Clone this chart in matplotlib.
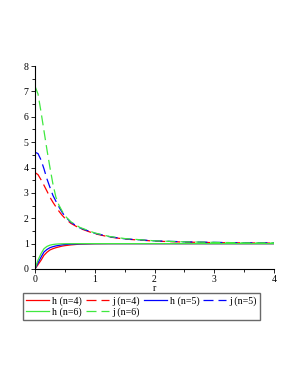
import matplotlib
matplotlib.use('Agg')
import matplotlib.pyplot as plt
from matplotlib.ticker import MultipleLocator

plt.rcParams['font.family'] = ['Liberation Serif', 'DejaVu Serif']

# values
r = [0, 0.05, 0.1, 0.15, 0.2, 0.25, 0.3, 0.35, 0.4, 0.45, 0.5, 0.6, 0.75,
     1.0, 1.25, 1.5, 2.0, 2.5, 3.0, 3.5, 4.0]

h4 = [0, 0.17, 0.34, 0.54, 0.66, 0.75, 0.80, 0.84, 0.87, 0.90, 0.92, 0.95, 0.98,
      0.995, 0.999, 1.0, 1.0, 1.0, 1.0, 1.0, 1.0]
j4 = [3.8, 3.72, 3.52, 3.3, 3.07, 2.83, 2.63, 2.45, 2.28, 2.13, 2.0, 1.8, 1.6,
      1.39, 1.26, 1.18, 1.1, 1.06, 1.04, 1.03, 1.02]
h5 = [0, 0.24, 0.46, 0.67, 0.77, 0.84, 0.88, 0.91, 0.93, 0.95, 0.965, 0.98, 0.99,
      0.998, 1.0, 1.0, 1.0, 1.0, 1.0, 1.0, 1.0]
j5 = [4.6, 4.55, 4.3, 3.95, 3.55, 3.22, 2.9, 2.67, 2.45, 2.25, 2.08, 1.84, 1.62,
      1.41, 1.27, 1.19, 1.11, 1.07, 1.05, 1.03, 1.03]
h6 = [0, 0.35, 0.6, 0.8, 0.89, 0.94, 0.965, 0.98, 0.988, 0.993, 0.995, 0.998, 1.0,
      1.0, 1.0, 1.0, 1.0, 1.0, 1.0, 1.0, 1.0]
j6 = [7.2, 6.9, 6.2, 5.45, 4.7, 4.0, 3.35, 2.83, 2.52, 2.3, 2.1, 1.86, 1.64,
      1.42, 1.28, 1.2, 1.11, 1.07, 1.05, 1.03, 1.03]

red, blue, green = '#ff0000', '#0000ff', '#3fe83f'
dash = (0, (8, 4))

fig = plt.figure(figsize=(2.98, 3.85), dpi=100)
ax = fig.add_axes([35/298, 1-269/385, 239/298, 203/385])

l1, = ax.plot(r, h4, color=red, lw=0.9, label='h (n=4)')
l2, = ax.plot(r, j4, color=red, lw=0.9, linestyle=dash, label='j (n=4)')
l3, = ax.plot(r, h5, color=blue, lw=0.9, label='h (n=5)')
l4, = ax.plot(r, j5, color=blue, lw=0.9, linestyle=dash, label='j (n=5)')
l5, = ax.plot(r, h6, color=green, lw=0.9, label='h (n=6)')
l6, = ax.plot(r, j6, color=green, lw=0.9, linestyle=dash, label='j (n=6)')

ax.set_xlim(0, 4)
ax.set_ylim(0, 8)
ax.spines['top'].set_visible(False)
ax.spines['right'].set_visible(False)
ax.xaxis.set_major_locator(MultipleLocator(1))
ax.xaxis.set_minor_locator(MultipleLocator(0.5))
ax.yaxis.set_major_locator(MultipleLocator(1))
ax.yaxis.set_minor_locator(MultipleLocator(0.5))
ax.tick_params(which='major', length=3, width=0.6, labelsize=7, pad=1.5)
ax.tick_params(which='minor', length=2, width=0.6)
ax.set_xlabel('r', fontsize=7, labelpad=0)

# matplotlib fills legend columns first, so reorder to get rows
order = [l1, l5, l2, l6, l3, l4]
fig.legend(order, [l.get_label() for l in order],
           loc='upper left', bbox_to_anchor=(23/298, 1-293/385), ncol=4,
           fontsize=7.2, frameon=True, fancybox=False, edgecolor='#444444',
           handlelength=2.3, handletextpad=0.35, columnspacing=0.35,
           borderpad=0.3, labelspacing=0.2, borderaxespad=0)

fig.savefig('out.png', dpi=100)
